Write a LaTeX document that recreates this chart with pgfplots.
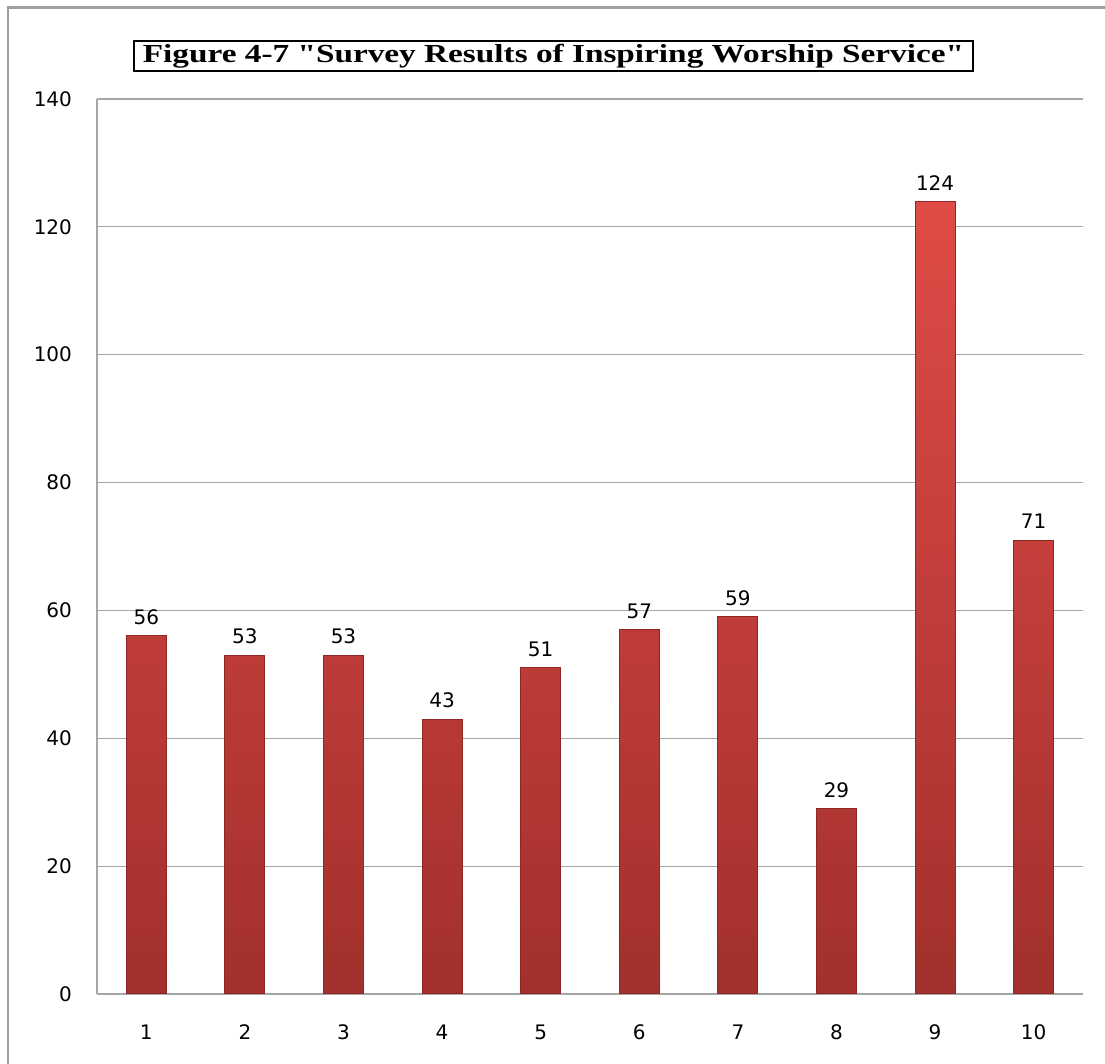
\documentclass[border=0pt]{standalone}
\usepackage{pgfplots}
\pgfplotsset{compat=1.18}
\usepackage{fontspec}
\setmainfont{DejaVu Sans}
\newfontfamily\titlefont{Liberation Serif}

\definecolor{barTop}{HTML}{E04B47}
\definecolor{barBottom}{HTML}{A2302C}
\definecolor{barEdge}{HTML}{8E2724}
\definecolor{gridGray}{HTML}{A6A6A6}

\begin{document}
\begin{tikzpicture}
\useasboundingbox (0pt,0pt) rectangle (552.5pt,532pt);
% outer chart frame
\draw[gray!75, line width=1.2pt] (4pt,0pt) -- (4pt,528.3pt) -- (552.5pt,528.3pt);
\begin{axis}[
  at={(48.5pt,35pt)}, anchor=south west,
  scale only axis, width=493pt, height=447.5pt,
  xmin=0.5, xmax=10.5, ymin=0, ymax=140,
  xtick={1,...,10}, ytick={0,20,...,140},
  ymajorgrids, grid style={gridGray, line width=0.6pt},
  axis x line*=bottom, axis y line*=left,
  axis line style={gridGray, line width=0.6pt},
  major tick length=0pt,
  ticklabel style={font=\fontsize{10}{12}\selectfont},
  /pgf/number format/assume math mode=true,
  yticklabel style={xshift=-9pt},
  xticklabel style={yshift=-12pt},
  ybar, bar width=20pt,
  nodes near coords,
  nodes near coords style={font=\fontsize{10}{12}\selectfont, yshift=2pt, text=black},
  clip=false,
]
\addplot[draw=barEdge, line width=0.5pt, top color=barTop, bottom color=barBottom]
  coordinates {(1,56) (2,53) (3,53) (4,43) (5,51) (6,57) (7,59) (8,29) (9,124) (10,71)};
\end{axis}
\node[draw=black, line width=0.9pt, fill=white, inner xsep=4.5pt, inner ysep=0pt,
      minimum height=15pt,
      font=\titlefont\bfseries\fontsize{13}{15}\selectfont]
  at (276.75pt,504pt) {\scalebox{1.28}[1]{Figure 4-7 "Survey Results of Inspiring Worship Service"}};
\end{tikzpicture}
\end{document}
